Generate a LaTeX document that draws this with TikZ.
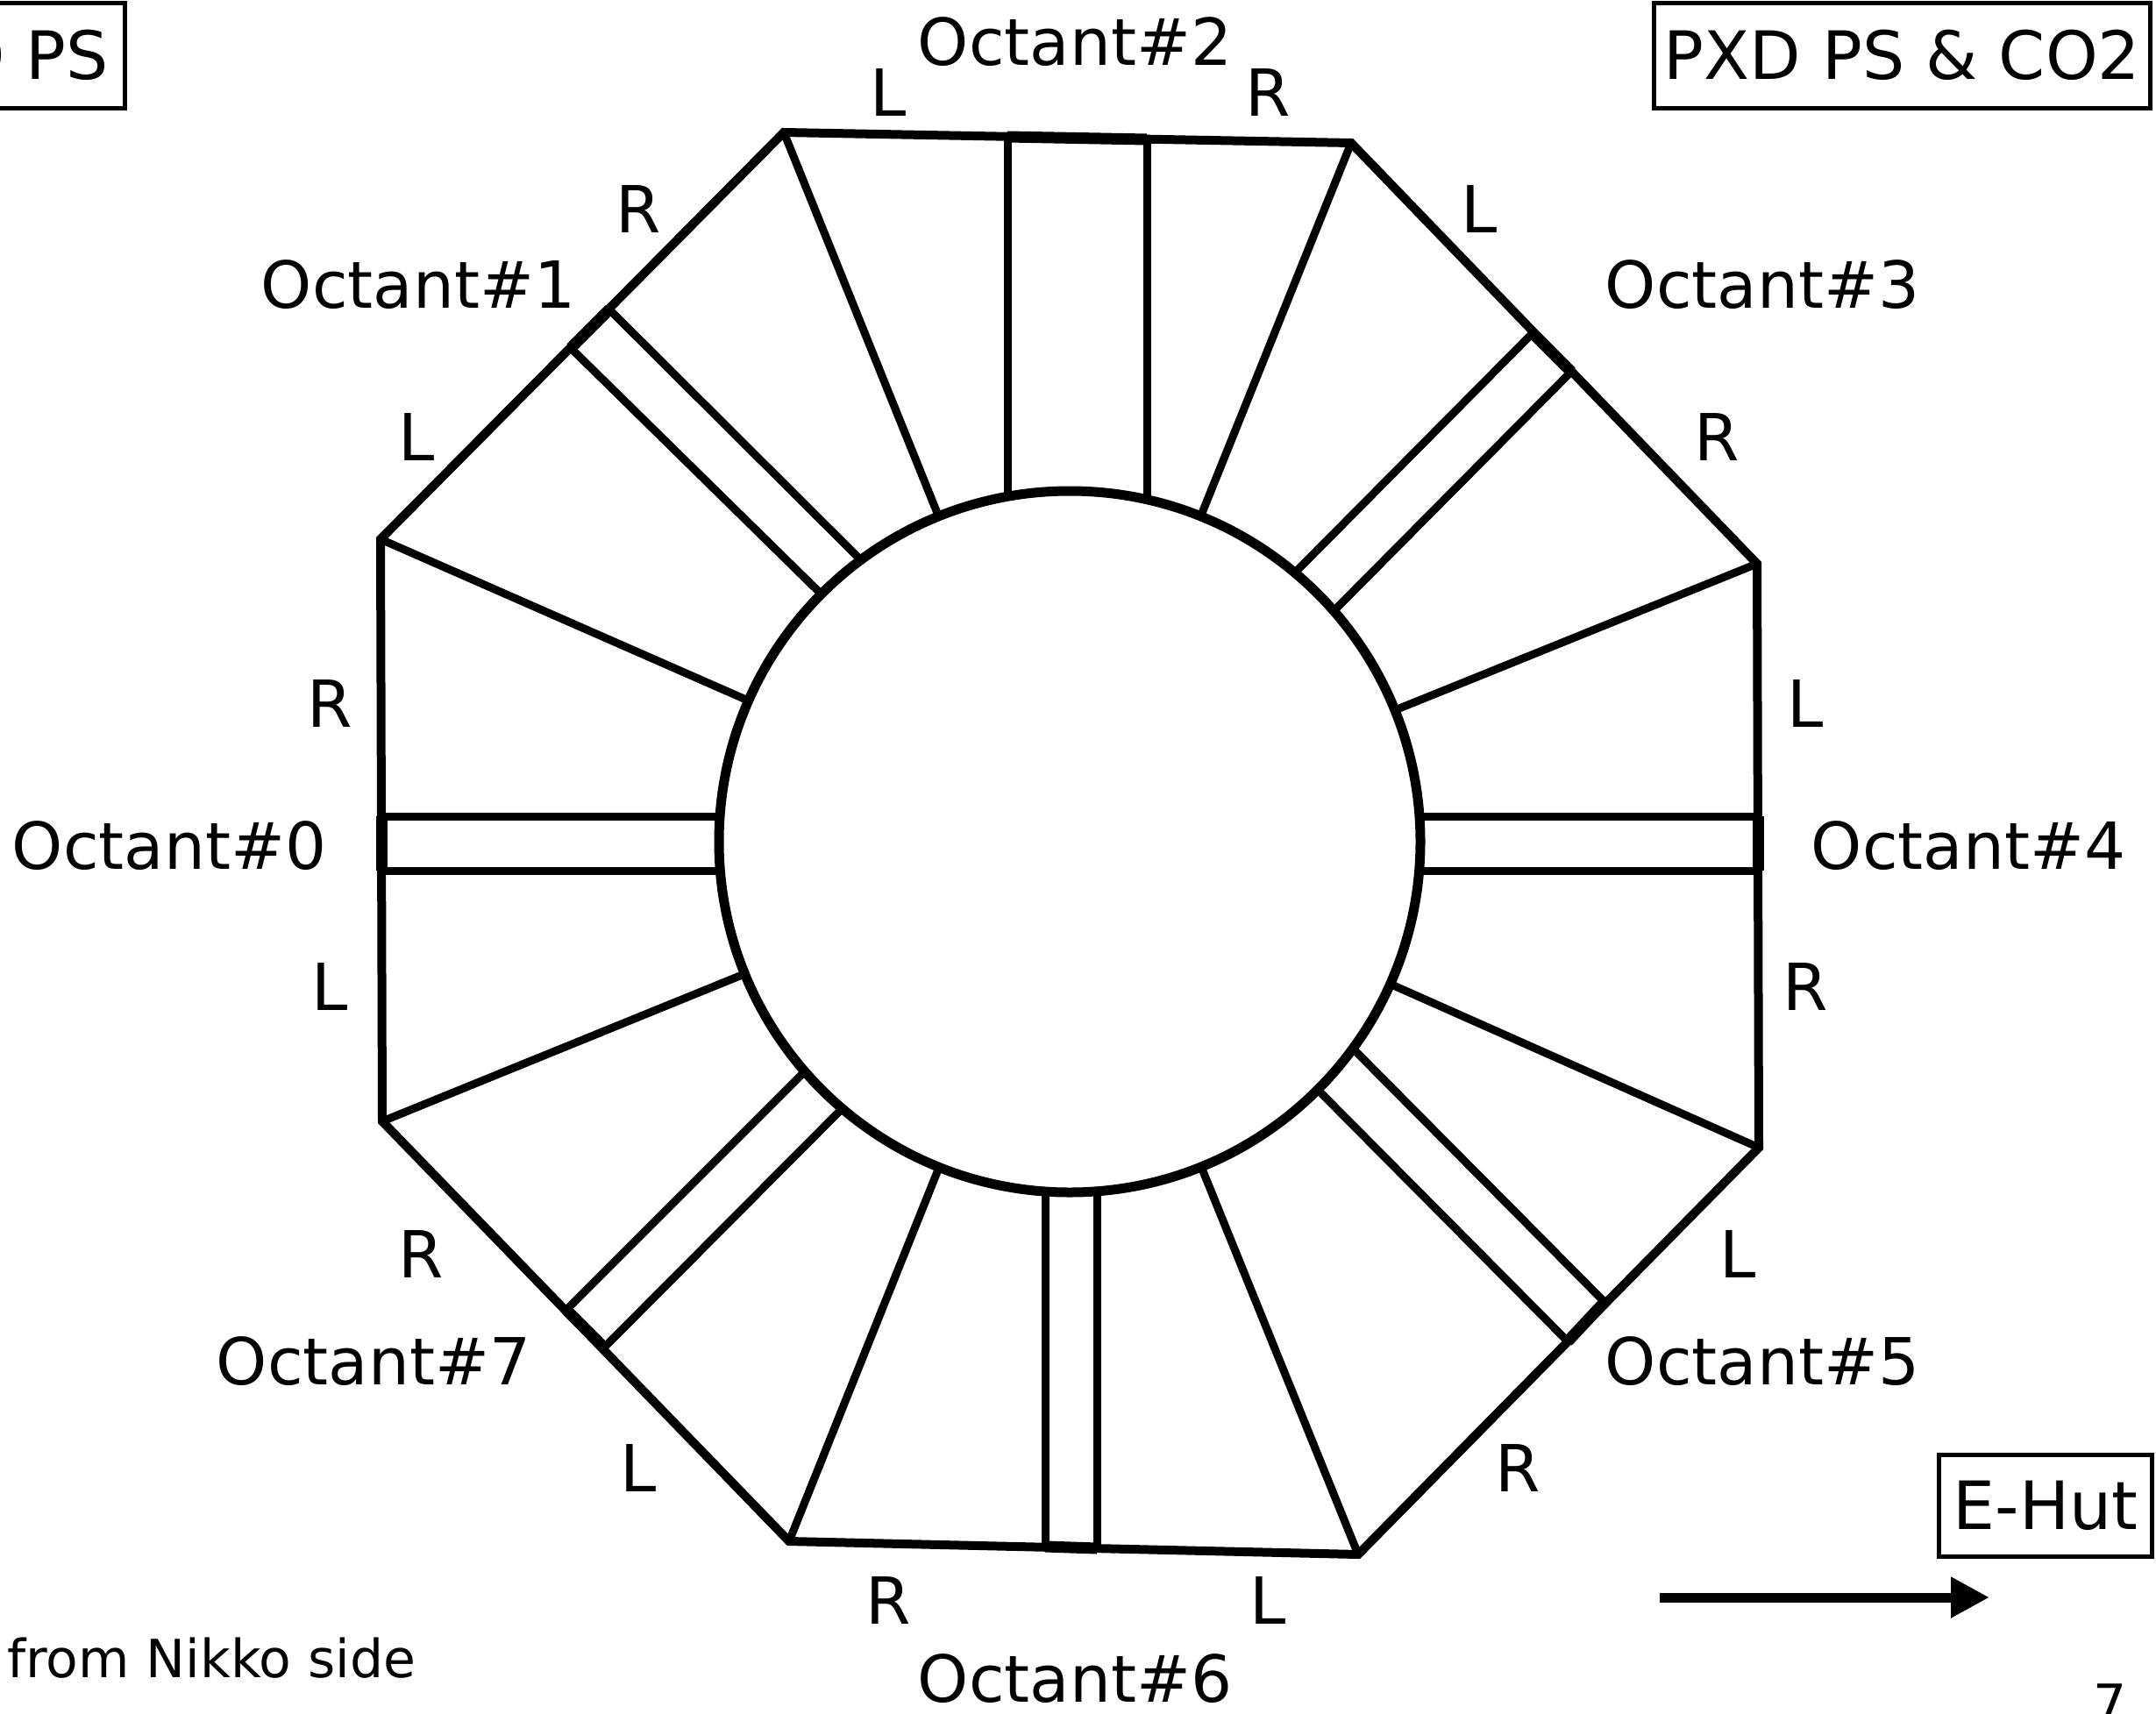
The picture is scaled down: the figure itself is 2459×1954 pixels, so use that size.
\documentclass[tikz,border=0pt]{standalone}
\usepackage{fontspec}
\setmainfont{DejaVu Sans}
\usetikzlibrary{arrows.meta,calc}
\begin{document}
\begin{tikzpicture}[x=1pt,y=-1pt,
  oct/.style={line width=10pt,line join=miter},
  spoke/.style={line width=9pt},
  barline/.style={line width=9pt},
  barend/.style={line width=13pt},
  ring/.style={line width=11pt},
  lab/.style={font=\fontsize{74}{88}\selectfont,inner sep=0pt,anchor=base},
  boxlab/.style={draw,line width=5pt,font=\fontsize{76}{90}\selectfont,inner sep=0pt,minimum height=120pt},
  smalllab/.style={font=\fontsize{60}{72}\selectfont,inner sep=0pt}]
\useasboundingbox (0,0) rectangle (2459,1954);
% octagon vertices
\coordinate (TL) at (894,151);
\coordinate (TR) at (1541,163);
\coordinate (R1) at (2004,643);
\coordinate (R2) at (2006,1309);
\coordinate (BR) at (1549,1773);
\coordinate (BL) at (900,1758);
\coordinate (L2) at (436,1279);
\coordinate (L1) at (434,615);
\coordinate (c) at (1220,960);
\draw[oct] (TL) -- (TR) -- (R1) -- (R2) -- (BR) -- (BL) -- (L2) -- (L1) -- cycle;
% spokes
\foreach \v in {TL,TR,R1,R2,BR,BL,L2,L1}
  \draw[spoke] (\v) -- ($(c)!400pt!(\v)$);
% bars
\coordinate (b0o1) at (435,931);  \coordinate (b0i1) at (821,931);
\coordinate (b0o2) at (435,993);  \coordinate (b0i2) at (821,993);
\coordinate (b4o1) at (2005,931); \coordinate (b4i1) at (1619,931);
\coordinate (b4o2) at (2005,993); \coordinate (b4i2) at (1619,993);
\coordinate (b2o1) at (1149,156); \coordinate (b2i1) at (1149,566);
\coordinate (b2o2) at (1308,159); \coordinate (b2i2) at (1308,570);
\coordinate (b6o1) at (1192,1764); \coordinate (b6i1) at (1192,1359);
\coordinate (b6o2) at (1251,1766); \coordinate (b6i2) at (1251,1359);
\coordinate (b1o1) at (651,397);  \coordinate (b1i1) at (936,677);
\coordinate (b1o2) at (695,353);  \coordinate (b1i2) at (980,637);
\coordinate (b3o1) at (1748,380); \coordinate (b3i1) at (1479,651);
\coordinate (b3o2) at (1792,424); \coordinate (b3i2) at (1523,695);
\coordinate (b5o1) at (1830,1485); \coordinate (b5i1) at (1545,1198);
\coordinate (b5o2) at (1788,1530); \coordinate (b5i2) at (1505,1245);
\coordinate (b7o1) at (646,1494); \coordinate (b7i1) at (918,1222);
\coordinate (b7o2) at (689,1537); \coordinate (b7i2) at (961,1264);
\foreach \b in {0,1,2,3,4,5,6,7}{
  \draw[barline] (b\b o1) -- (b\b i1);
  \draw[barline] (b\b o2) -- (b\b i2);
  \draw[barend] (b\b o1) -- (b\b o2);
}
% central ring
\draw[ring] (c) circle[radius=400];
% labels
\node[lab] (o2) at (1226,74) {Octant\#2};
\node[lab] (o2l) at (1013,132) {L};
\node[lab] (o2r) at (1446,132) {R};
\node[lab] (o1r) at (728,265) {R};
\node[lab] (o1) at (477,351) {Octant\#1};
\node[lab] (o1l) at (475,525) {L};
\node[lab] (o3l) at (1687,265) {L};
\node[lab] (o3) at (2010,351) {Octant\#3};
\node[lab] (o3r) at (1958,525) {R};
\node[lab] (o0r) at (376,829) {R};
\node[lab] (o0) at (193,991) {Octant\#0};
\node[lab] (o0l) at (376,1152) {L};
\node[lab] (o4l) at (2059,829) {L};
\node[lab] (o4) at (2245,991) {Octant\#4};
\node[lab] (o4r) at (2059,1152) {R};
\node[lab] (o7r) at (480,1457) {R};
\node[lab] (o7) at (426,1579) {Octant\#7};
\node[lab] (o7l) at (728,1701) {L};
\node[lab] (o5l) at (1982,1457) {L};
\node[lab] (o5) at (2010,1579) {Octant\#5};
\node[lab] (o5r) at (1731,1701) {R};
\node[lab] (o6r) at (1013,1852) {R};
\node[lab] (o6) at (1226,1941) {Octant\#6};
\node[lab] (o6l) at (1446,1852) {L};
% boxes
\node[boxlab,inner xsep=18pt,anchor=east] (pxdps) at (144.5,63) {PXD PS};
\node[boxlab,minimum width=566pt] (pxdco) at (2169.5,63) {PXD PS \& CO2};
\node[boxlab,minimum width=243pt,minimum height=116pt] (ehut) at (2333,1717.5) {E-Hut};
% arrow
\coordinate (arrS) at (1893,1822);
\coordinate (arrE) at (2269,1822);
\draw[line width=11pt,-{Triangle[length=44pt,width=44pt]}] (arrS) -- (arrE);
% footer
\node[smalllab,anchor=base west] (nikko) at (8,1913) {from Nikko side};
\node[smalllab,anchor=north] (pg) at (2407,1921) {7};
\end{tikzpicture}
\end{document}
